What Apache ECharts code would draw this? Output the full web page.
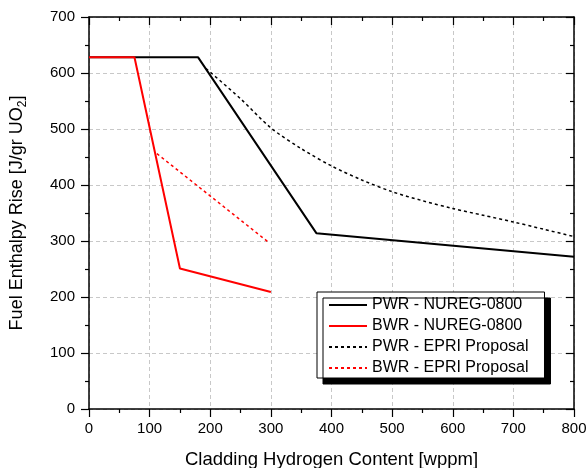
<!DOCTYPE html>
<html>
<head>
<meta charset="utf-8">
<script src="https://cdn.jsdelivr.net/npm/echarts@6/dist/echarts.min.js"></script>
<style>
  html, body { margin: 0; padding: 0; background: #fff; }
  #chart { width: 587px; height: 468px; }
</style>
</head>
<body>
<div id="chart"></div>
<script>
// Hydrogen content (wppm) vs. fuel enthalpy rise limit (J/g UO2)
const pwrNuregX = [0, 180, 375, 800];
const pwrNuregY = [628, 628, 314, 272];

const bwrNuregX = [0, 75, 150, 300];
const bwrNuregY = [628, 628, 251, 209];

const pwrEpriX = [193, 250, 300, 350, 400, 450, 500, 550, 600, 650, 700, 750, 800];
const pwrEpriY = [608, 554, 502, 465, 434, 409, 388, 372, 358, 346, 334, 321, 308];

const bwrEpriX = [112, 297];
const bwrEpriY = [456, 297];

const seriesNames = ['PWR - NUREG-0800', 'BWR - NUREG-0800', 'PWR - EPRI Proposal', 'BWR - EPRI Proposal'];

const xTitle = 'Cladding Hydrogen Content [wppm]';
const yTitle = 'Fuel Enthalpy Rise [J/gr UO{sub|2}]';

function pairs(xs, ys) {
  return xs.map((x, i) => [x, ys[i]]);
}

const FONT = 'Liberation Sans, Arial, sans-serif';

const chart = echarts.init(document.getElementById('chart'), null, { renderer: 'canvas' });

const frameLine = { show: true, onZero: false, lineStyle: { color: '#000', width: 1.5 } };
const tickStyle = { color: '#000', width: 1.2 };

chart.setOption({
  animation: false,
  backgroundColor: '#fff',
  grid: {
    left: 89, right: 13, top: 17, bottom: 59,
    containLabel: false, outerBoundsMode: 'none'
  },
  legend: {
    orient: 'vertical',
    left: 317,
    top: 292,
    padding: [5, 16, 2, 11],
    itemGap: 5,
    itemWidth: 38,
    itemHeight: 14,
    backgroundColor: '#fff',
    borderColor: '#000',
    borderWidth: 1,
    shadowColor: '#000',
    shadowBlur: 0,
    shadowOffsetX: 6,
    shadowOffsetY: 6,
    itemStyle: { opacity: 0 },
    textStyle: { fontFamily: FONT, fontSize: 16, color: '#000' },
    data: seriesNames
  },
  xAxis: [
    {
      type: 'value', min: 0, max: 800, interval: 100,
      position: 'bottom',
      name: xTitle, nameLocation: 'middle', nameGap: 41,
      nameTextStyle: { fontFamily: FONT, fontSize: 18.5, color: '#000' },
      axisLine: frameLine,
      axisTick: { show: true, inside: false, length: 8, lineStyle: tickStyle },
      minorTick: { show: true, splitNumber: 2, length: 4, lineStyle: tickStyle },
      axisLabel: { fontFamily: FONT, fontSize: 15, color: '#000', margin: 12 },
      splitLine: { show: true, lineStyle: { color: '#c8c8c8', width: 1, type: [4, 3] } }
    },
    {
      type: 'value', min: 0, max: 800, interval: 100,
      position: 'top',
      axisLine: frameLine,
      axisTick: { show: true, inside: true, length: 8, lineStyle: tickStyle },
      minorTick: { show: true, splitNumber: 2, length: 4, lineStyle: tickStyle },
      axisLabel: { show: false },
      splitLine: { show: false }
    }
  ],
  yAxis: [
    {
      type: 'value', min: 0, max: 700, interval: 100,
      position: 'left',
      name: yTitle, nameLocation: 'middle', nameGap: 60,
      nameTextStyle: {
        fontFamily: FONT, fontSize: 18, color: '#000',
        rich: {
          sub: { fontFamily: FONT, fontSize: 12, color: '#000', padding: [11, 0, 0, 0] }
        }
      },
      axisLine: frameLine,
      axisTick: { show: true, inside: false, length: 8, lineStyle: tickStyle },
      minorTick: { show: true, splitNumber: 2, length: 4, lineStyle: tickStyle },
      axisLabel: { fontFamily: FONT, fontSize: 15, color: '#000', margin: 14 },
      splitLine: { show: true, lineStyle: { color: '#c8c8c8', width: 1, type: [4, 3] } }
    },
    {
      type: 'value', min: 0, max: 700, interval: 100,
      position: 'right',
      axisLine: frameLine,
      axisTick: { show: true, inside: true, length: 8, lineStyle: tickStyle },
      minorTick: { show: true, splitNumber: 2, length: 4, lineStyle: tickStyle },
      axisLabel: { show: false },
      splitLine: { show: false }
    }
  ],
  series: [
    {
      name: seriesNames[0], type: 'line', symbol: 'none',
      data: pairs(pwrNuregX, pwrNuregY),
      lineStyle: { color: '#000', width: 2 }, itemStyle: { color: '#000' }
    },
    {
      name: seriesNames[1], type: 'line', symbol: 'none',
      data: pairs(bwrNuregX, bwrNuregY),
      lineStyle: { color: '#ff0000', width: 2 }, itemStyle: { color: '#ff0000' }
    },
    {
      name: seriesNames[2], type: 'line', symbol: 'none', smooth: 0.3,
      data: pairs(pwrEpriX, pwrEpriY),
      lineStyle: { color: '#000', width: 1.5, type: [3, 3] }, itemStyle: { color: '#000' }
    },
    {
      name: seriesNames[3], type: 'line', symbol: 'none',
      data: pairs(bwrEpriX, bwrEpriY),
      lineStyle: { color: '#ff0000', width: 1.5, type: [3, 3] }, itemStyle: { color: '#ff0000' }
    },
    {
      // empty series that keeps the top/right frame axes active
      name: 'frame', type: 'line', symbol: 'none',
      xAxisIndex: 1, yAxisIndex: 1, data: [],
      silent: true
    }
  ]
});
</script>
</body>
</html>
